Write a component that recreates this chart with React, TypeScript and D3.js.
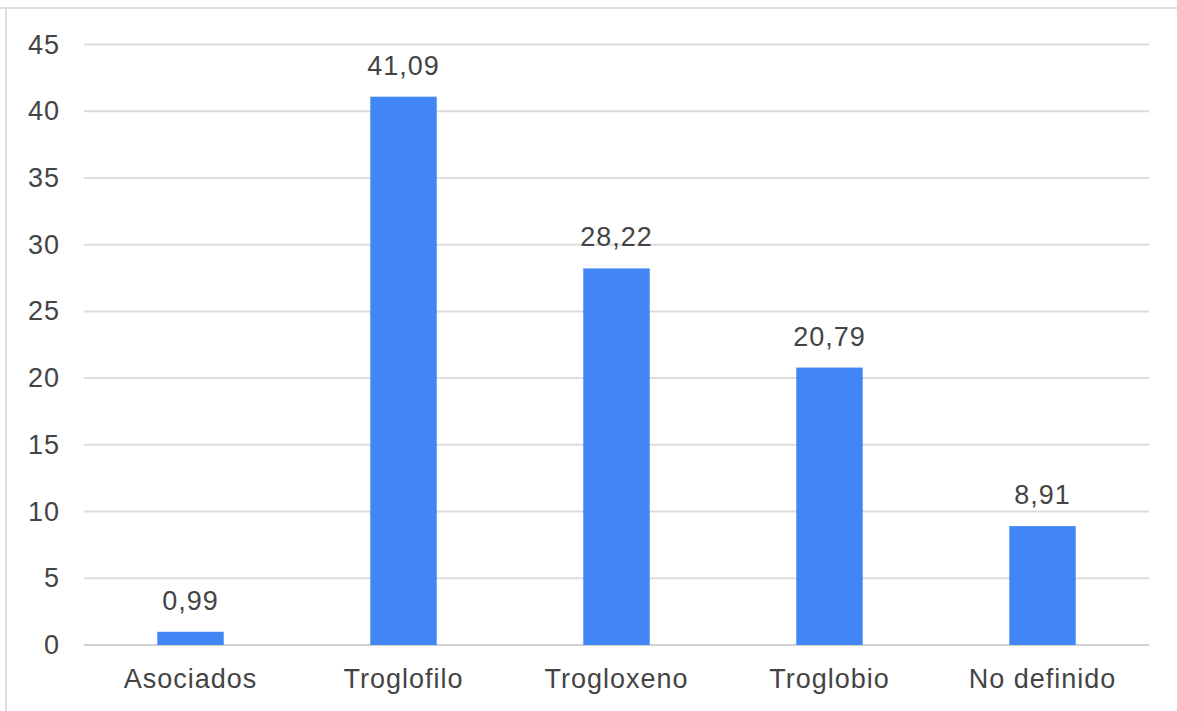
import React from "react";
import * as d3 from "d3";

const categories = ["Asociados", "Troglofilo", "Trogloxeno", "Troglobio", "No definido"];
const values = [0.99, 41.09, 28.22, 20.79, 8.91];
const valueLabels = ["0,99", "41,09", "28,22", "20,79", "8,91"];
const yTicks = [0, 5, 10, 15, 20, 25, 30, 35, 40, 45];

const W = 1177;
const H = 711;
const plot = { left: 84, right: 1149, top: 44.5, bottom: 645 };

const FONT = "'Liberation Sans', Arial, sans-serif";
const TEXT = "#444444";
const GRID = "#dcdcdc";
const BAR = "#4285f4";

export default function App() {
  const x = d3
    .scaleBand<string>()
    .domain(categories)
    .range([plot.left, plot.right])
    .paddingInner(0.688)
    .paddingOuter(0.344);
  const y = d3.scaleLinear().domain([0, 45]).range([plot.bottom, plot.top]);

  const textProps = {
    fontFamily: FONT,
    fontSize: 27,
    fill: TEXT,
    letterSpacing: 1,
  };

  return (
    <svg
      width={W}
      height={H}
      style={{ position: "absolute", left: 0, top: 0, background: "#fff" }}
    >
      {/* frame: top and left edges */}
      <line x1={0} x2={W} y1={8} y2={8} stroke="#dedede" strokeWidth={2} />
      <line x1={6} x2={6} y1={8} y2={H} stroke="#dedede" strokeWidth={2} />

      {yTicks.map((t) => (
        <g key={t}>
          <line
            x1={plot.left}
            x2={plot.right}
            y1={y(t)}
            y2={y(t)}
            stroke={t === 0 ? "#d0d0d0" : GRID}
            strokeWidth={2}
          />
          <text x={60} y={y(t)} textAnchor="end" dominantBaseline="central" {...textProps}>
            {t}
          </text>
        </g>
      ))}

      {categories.map((c, i) => {
        const bx = x(c)!;
        const bw = x.bandwidth();
        return (
          <g key={c}>
            <rect x={bx} y={y(values[i])} width={bw} height={y(0) - y(values[i])} fill={BAR} />
            <text x={bx + bw / 2} y={y(values[i]) - 22} textAnchor="middle" {...textProps}>
              {valueLabels[i]}
            </text>
            <text x={bx + bw / 2} y={688} textAnchor="middle" {...textProps}>
              {c}
            </text>
          </g>
        );
      })}
    </svg>
  );
}
